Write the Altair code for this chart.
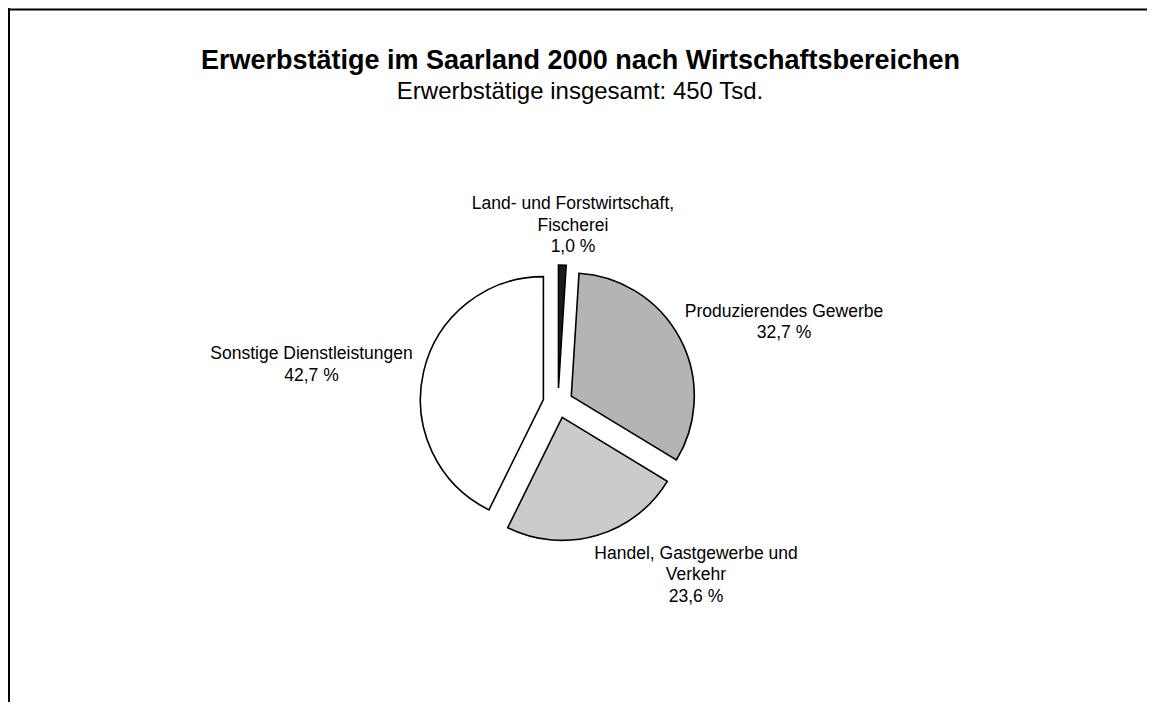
import altair as alt
import pandas as pd

# ---------------- data ----------------
categories = [
    "Land- und Forstwirtschaft, Fischerei",
    "Produzierendes Gewerbe",
    "Handel, Gastgewerbe und Verkehr",
    "Sonstige Dienstleistungen",
]
shares = [1.0, 32.7, 23.6, 42.7]
label_lines = [
    ["Land- und Forstwirtschaft,", "Fischerei"],
    ["Produzierendes Gewerbe"],
    ["Handel, Gastgewerbe und", "Verkehr"],
    ["Sonstige Dienstleistungen"],
]
title_text = "Erwerbstätige im Saarland 2000 nach Wirtschaftsbereichen"
subtitle_text = "Erwerbstätige insgesamt: 450 Tsd."

# ---------------- layout / style ----------------
W, H = 1139, 694
CX, CY = 550, 395
R = 123
EXPLODE = 15
FONT = "Liberation Sans"
LH = 21.5
slice_colors = ["#1c1c1c", "#b4b4b4", "#cbcbcb", "#ffffff"]
label_anchor = {  # centre of each label block (chart pixels)
    categories[0]: (565, 217.5),
    categories[1]: (776, 314.5),
    categories[2]: (688, 567),
    categories[3]: (303.5, 357),
}

df = pd.DataFrame({"category": categories, "share": shares, "order": range(len(categories))})

arcs = (
    alt.Chart(df)
    .transform_window(cum="sum(share)", sort=[alt.SortField("order")], frame=[None, 0])
    .transform_joinaggregate(total="sum(share)")
    .transform_calculate(
        t0="2*PI*(datum.cum-datum.share)/datum.total",
        t1="2*PI*datum.cum/datum.total",
    )
    .transform_calculate(mid="(datum.t0+datum.t1)/2")
    .transform_calculate(
        px=f"{CX}+{EXPLODE}*sin(datum.mid)",
        py=f"{CY}-{EXPLODE}*cos(datum.mid)",
    )
    .mark_arc(outerRadius=R, stroke="black", strokeWidth=1.6)
    .encode(
        theta=alt.Theta("t0:Q", scale=None),
        theta2="t1:Q",
        x=alt.X("px:Q", scale=None),
        y=alt.Y("py:Q", scale=None),
        fill=alt.Fill("category:N", scale=alt.Scale(domain=categories, range=slice_colors), legend=None),
    )
)

texts = [lines + [f"{v:.1f}".replace(".", ",") + " %"] for lines, v in zip(label_lines, shares)]
lab_df = pd.DataFrame({
    "category": categories,
    "text": ["\n".join(t) for t in texts],
    "lx": [label_anchor[c][0] for c in categories],
    "ly": [label_anchor[c][1] - (len(t) - 1) * LH / 2 for c, t in zip(categories, texts)],
})

labels = (
    alt.Chart(lab_df)
    .mark_text(lineBreak="\n", align="center", baseline="middle", fontSize=17.5,
               lineHeight=LH, font=FONT, color="black")
    .encode(x=alt.X("lx:Q", scale=None), y=alt.Y("ly:Q", scale=None), text="text:N")
)

tdf = pd.DataFrame({"t": [title_text], "s": [subtitle_text]})
title = (
    alt.Chart(tdf)
    .mark_text(align="center", baseline="middle", fontSize=27, fontWeight="bold", font=FONT, color="black")
    .encode(x=alt.value(572.5), y=alt.value(53), text="t:N")
)
subtitle = (
    alt.Chart(tdf)
    .mark_text(align="center", baseline="middle", fontSize=24, font=FONT, color="black")
    .encode(x=alt.value(572), y=alt.value(84), text="s:N")
)

top_rule = alt.Chart(tdf).mark_rule(color="black", strokeWidth=2).encode(
    x=alt.value(0), x2=alt.value(W), y=alt.value(1.5))
left_rule = alt.Chart(tdf).mark_rule(color="black", strokeWidth=2).encode(
    x=alt.value(1), y=alt.value(0), y2=alt.value(H))

chart = (
    alt.layer(top_rule, left_rule, arcs, labels, title, subtitle)
    .properties(width=W, height=H, padding=0, autosize=alt.AutoSizeParams(type="none"), background="white")
    .configure_view(stroke=None)
)

chart.save("out.html", embed_options={"renderer": "svg", "actions": False})
